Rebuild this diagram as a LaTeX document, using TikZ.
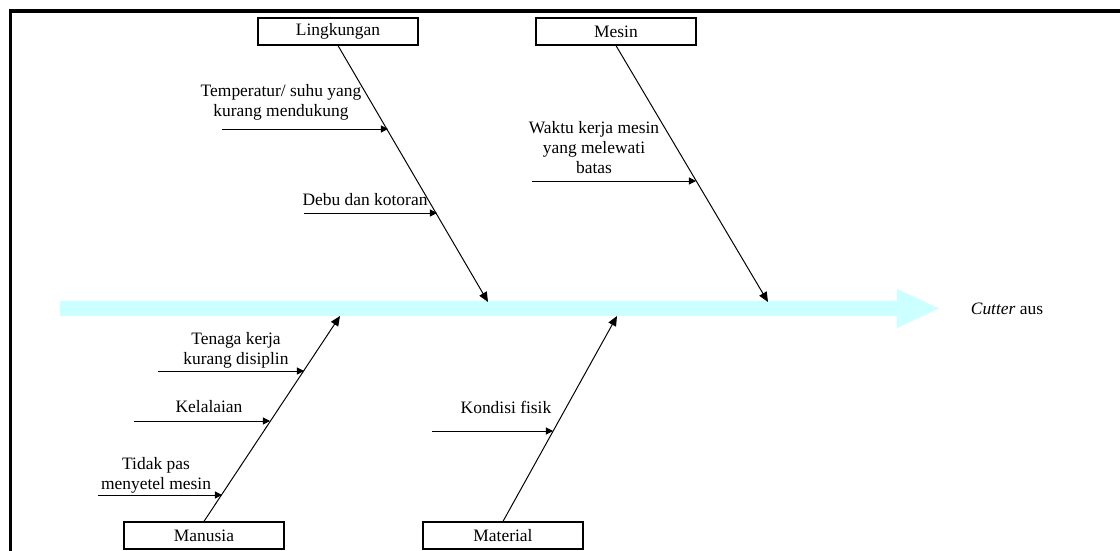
\documentclass[tikz,border=0pt]{standalone}
\usepackage{fontspec}
\setmainfont{Liberation Serif}
\usetikzlibrary{arrows.meta}
\definecolor{spinecol}{RGB}{204,255,255}
\begin{document}
\begin{tikzpicture}[x=0.025cm,y=-0.025cm,
    font=\fontsize{12.4}{14.2}\selectfont,
    box/.style={draw,line width=0.9pt,minimum width=4cm,minimum height=0.675cm,inner sep=0pt},
    bone/.style={line width=0.7pt,-{Triangle[length=7pt,width=6pt]}},
    cause/.style={line width=0.7pt,-{Triangle[length=5pt,width=5pt]}},
    lbl/.style={align=center,inner sep=0pt}]
  \useasboundingbox (0,0) rectangle (1120,551);
  \draw[line width=2.8pt] (1120,11) -- (10.5,11) -- (10.5,551);
  \coordinate (spinetail) at (60,308.5);
  \coordinate (spinehead) at (939,308.5);
  \fill[spinecol] (spinetail) ++(0,-7.5) -- (897,301) -- (897,289) -- (spinehead)
    -- (897,328) -- (897,316) -- (60,316) -- cycle;
  \node (effect) at (1007,309) {\textit{Cutter} aus};
  \node[box] (lingk) at (338,31.5) {Lingkungan};
  \node[box] (mesin) at (616,31.5) {Mesin};
  \node[box] (manusia) at (204,535.5) {Manusia};
  \node[box] (material) at (503,535.5) {Material};
  \draw[bone] (lingk.south) -- (488,302);
  \draw[bone] (mesin.south) -- (768,302);
  \draw[bone] (manusia.north) -- (340,316);
  \draw[bone] (material.north) -- (617,316);
  \node[lbl] (temp) at (281,102) {Temperatur/ suhu yang\\kurang mendukung};
  \draw[cause] (222,129) -- (388,129);
  \node[lbl] (debu) at (365,200) {Debu dan kotoran};
  \draw[cause] (304,213) -- (437,213);
  \node[lbl] (waktu) at (594,148) {Waktu kerja mesin\\yang melewati\\batas};
  \draw[cause] (532,181) -- (696,181);
  \node[lbl] (tenaga) at (236,350) {Tenaga kerja\\kurang disiplin};
  \draw[cause] (158,371) -- (304,371);
  \node[lbl] (lalai) at (209,407) {Kelalaian};
  \draw[cause] (134,421) -- (270,421);
  \node[lbl] (setel) at (156,475) {Tidak pas\\menyetel mesin};
  \draw[cause] (98,495) -- (222,495);
  \node[lbl] (fisik) at (506,407) {Kondisi fisik};
  \draw[cause] (432,431) -- (553,431);
\end{tikzpicture}
\end{document}
